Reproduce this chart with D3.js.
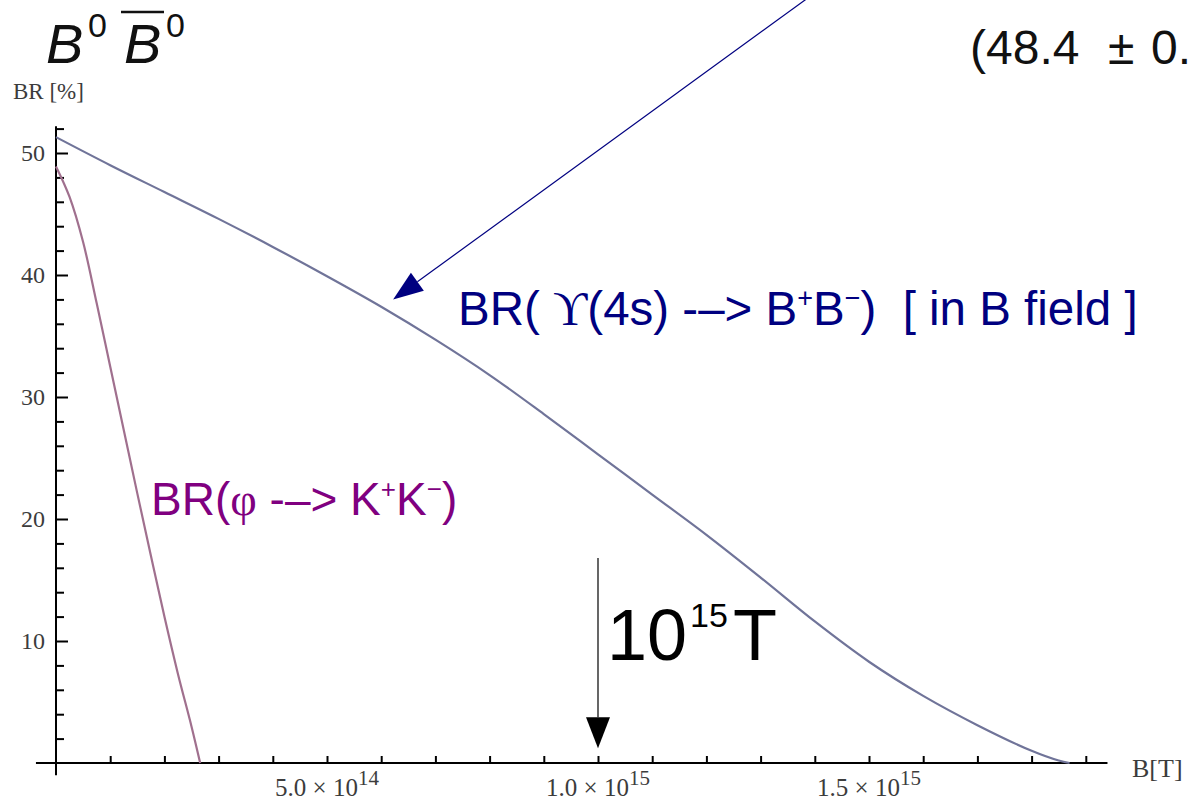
<!DOCTYPE html>
<html>
<head>
<meta charset="utf-8">
<script src="https://cdn.jsdelivr.net/npm/d3@7"></script>
<style>
  body { margin: 0; background: #fff; }
  svg { display: block; }
</style>
</head>
<body>
<svg id="chart" width="1191" height="803"></svg>
<script>
// Branching ratio of Υ(4S) → B+B− versus magnetic field (T, %)
const upsilonField = [0, 1e14, 2e14, 3e14, 4e14, 5e14, 6e14, 7e14, 8e14, 9e14,
  1e15, 1.1e15, 1.2e15, 1.3e15, 1.4e15, 1.5e15, 1.6e15, 1.7e15, 1.8e15, 1.85e15, 1.87e15];
const upsilonBR = [51.3, 49.0, 46.8, 44.6, 42.3, 39.9, 37.4, 34.7, 31.8, 28.6,
  25.3, 22.0, 18.7, 15.2, 11.6, 8.3, 5.5, 3.1, 1.0, 0.2, 0.0];

// Branching ratio of φ → K+K− versus magnetic field (T, %)
const phiField = [0, 2.5e13, 5e13, 7.5e13, 1e14, 1.25e14, 1.5e14, 1.75e14, 2e14, 2.25e14, 2.5e14, 2.66e14];
const phiBR = [48.9, 46.4, 42.7, 37.7, 32.5, 27.3, 22.1, 17.0, 12.0, 7.3, 3.0, 0.0];

// Axis ticks
const yTickValues = [10, 20, 30, 40, 50];
const yMinorTicks = [2, 4, 6, 8, 12, 14, 16, 18, 22, 24, 26, 28, 32, 34, 36, 38, 42, 44, 46, 48, 52];
const xMinorTicks = [1e14, 2e14, 3e14, 4e14, 5e14, 6e14, 7e14, 8e14, 9e14, 1e15,
  1.1e15, 1.2e15, 1.3e15, 1.4e15, 1.5e15, 1.6e15, 1.7e15, 1.8e15, 1.9e15];
const xTickValues = [5e14, 1e15, 1.5e15];
const xTickMantissas = ["5.0", "1.0", "1.5"];
const xTickExponents = ["14", "15", "15"];

// Extent of the drawn axis lines (data units)
const xAxisExtent = [-0.37e14, 1.94e15];
const yAxisExtent = [-1.0, 52.2];

// Annotated field value and the point the Υ(4S) label arrow touches
const markedField = 1e15;
const markedArrowTop = 16.8;
const markedArrowTip = 1.2;
const upsilonArrowFrom = [1.39e15, 62.8];
const upsilonArrowTo = [0.622e15, 38.0];

const svg = d3.select("#chart");
const x = d3.scaleLinear().domain([0, 1e15]).range([56, 598]);
const y = d3.scaleLinear().domain([0, 50]).range([763, 153]);

const serif = "'Liberation Serif', 'Times New Roman', serif";
const sans = "'Liberation Sans', Arial, sans-serif";
const labelGray = "#3c3c3c";

// ---- axes ----
const axes = svg.append("g");

// y axis: inward ticks, labels to the left
const yMajor = axes.append("g").attr("transform", `translate(${x(0)},0)`)
  .call(d3.axisLeft(y).tickValues(yTickValues).tickSizeInner(-12).tickSizeOuter(0).tickPadding(11));
yMajor.select(".domain").remove();
yMajor.selectAll(".tick line").attr("stroke", "#000").attr("stroke-width", 2);
yMajor.selectAll(".tick text").attr("font-family", serif).attr("font-size", 24).attr("fill", labelGray);

const yMinor = axes.append("g").attr("transform", `translate(${x(0)},0)`)
  .call(d3.axisLeft(y).tickValues(yMinorTicks).tickSizeInner(-8).tickSizeOuter(0).tickFormat(""));
yMinor.select(".domain").remove();
yMinor.selectAll(".tick line").attr("stroke", "#000").attr("stroke-width", 2);

// x axis: short upward ticks
const xMinor = axes.append("g").attr("transform", `translate(0,${y(0)})`)
  .call(d3.axisBottom(x).tickValues(xMinorTicks).tickSizeInner(-7).tickSizeOuter(0).tickFormat(""));
xMinor.select(".domain").remove();
xMinor.selectAll(".tick line").attr("stroke", "#000").attr("stroke-width", 2);

// axis lines
axes.append("line")
  .attr("x1", x(xAxisExtent[0])).attr("x2", x(xAxisExtent[1]))
  .attr("y1", y(0)).attr("y2", y(0))
  .attr("stroke", "#000").attr("stroke-width", 2);
axes.append("line")
  .attr("x1", x(0)).attr("x2", x(0))
  .attr("y1", y(yAxisExtent[0])).attr("y2", y(yAxisExtent[1]))
  .attr("stroke", "#000").attr("stroke-width", 2);

// x tick labels in scientific notation
const xLabels = axes.append("g");
xTickValues.forEach((v, i) => {
  const t = xLabels.append("text")
    .attr("x", x(v)).attr("y", 796)
    .attr("text-anchor", "middle")
    .attr("font-family", serif).attr("font-size", 25).attr("fill", labelGray);
  t.append("tspan").text(xTickMantissas[i] + " \u00D7 10");
  t.append("tspan").attr("font-size", 21).attr("dy", -11).text(xTickExponents[i]);
});

// axis titles
axes.append("text").attr("x", 13).attr("y", 99)
  .attr("font-family", serif).attr("font-size", 23).attr("fill", labelGray)
  .text("BR [%]");
axes.append("text").attr("x", 1132).attr("y", 777)
  .attr("font-family", serif).attr("font-size", 26).attr("fill", labelGray)
  .text("B[T]");

// ---- curves ----
const line = d3.line()
  .x(d => x(d[0])).y(d => y(d[1]))
  .curve(d3.curveCatmullRom.alpha(0.5));

svg.append("path")
  .datum(upsilonField.map((b, i) => [b, upsilonBR[i]]))
  .attr("d", line)
  .attr("fill", "none").attr("stroke", "#707499").attr("stroke-width", 2.2);

svg.append("path")
  .datum(phiField.map((b, i) => [b, phiBR[i]]))
  .attr("d", line)
  .attr("fill", "none").attr("stroke", "#a0708e").attr("stroke-width", 2.2);

// ---- annotations ----
function arrow(g, x1, y1, x2, y2, color, width, headLen, headWidth) {
  const ang = Math.atan2(y2 - y1, x2 - x1);
  const bx = x2 - headLen * Math.cos(ang), by = y2 - headLen * Math.sin(ang);
  g.append("line").attr("x1", x1).attr("y1", y1).attr("x2", bx).attr("y2", by)
    .attr("stroke", color).attr("stroke-width", width);
  const px = Math.sin(ang) * headWidth / 2, py = -Math.cos(ang) * headWidth / 2;
  g.append("path")
    .attr("d", `M${x2},${y2}L${bx + px},${by + py}L${bx - px},${by - py}Z`)
    .attr("fill", color);
}

const ann = svg.append("g");

// Υ(4S) label and its arrow
arrow(ann, x(upsilonArrowFrom[0]), y(upsilonArrowFrom[1]), x(upsilonArrowTo[0]), y(upsilonArrowTo[1]),
  "#000080", 1.2, 30, 22);

const ups = ann.append("text").attr("x", 458).attr("y", 325)
  .attr("font-family", sans).attr("font-size", 47.5).attr("fill", "#000080")
  .attr("xml:space", "preserve");
ups.append("tspan").text("BR( ");
ups.append("tspan").attr("font-family", serif).text("\u03D2");
ups.append("tspan").text("(4s) -\u2013> B");
ups.append("tspan").attr("font-size", 27).attr("dy", -18).text("+");
ups.append("tspan").attr("dy", 18).text("B");
ups.append("tspan").attr("font-size", 27).attr("dy", -18).text("\u2212");
ups.append("tspan").attr("dy", 18).text(")  [ in B field ]");

// φ label
const phi = ann.append("text").attr("x", 151).attr("y", 515)
  .attr("font-family", sans).attr("font-size", 46).attr("fill", "#800080")
  .attr("xml:space", "preserve");
phi.append("tspan").text("BR(");
phi.append("tspan").attr("font-family", serif).text("\u03C6");
phi.append("tspan").text(" -\u2013> K");
phi.append("tspan").attr("font-size", 26).attr("dy", -17).text("+");
phi.append("tspan").attr("dy", 17).text("K");
phi.append("tspan").attr("font-size", 26).attr("dy", -17).text("\u2212");
phi.append("tspan").attr("dy", 17).text(")");

// marker at 10^15 T
arrow(ann, x(markedField), y(markedArrowTop), x(markedField), y(markedArrowTip), "#000", 1.2, 31, 24);
const mark = ann.append("text").attr("x", 607).attr("y", 660)
  .attr("font-family", sans).attr("font-size", 72).attr("fill", "#000");
mark.append("tspan").text("10");
mark.append("tspan").attr("font-size", 34).attr("dy", -33).attr("dx", 3).text("15");
mark.append("tspan").attr("dy", 33).attr("dx", 5).text("T");

// ---- header texts ----
const title = svg.append("g").attr("font-family", sans).attr("fill", "#111");
title.append("text").attr("x", 46).attr("y", 63).attr("font-size", 56).attr("font-style", "italic").text("B");
title.append("text").attr("x", 88).attr("y", 37).attr("font-size", 34).text("0");
title.append("text").attr("x", 124).attr("y", 63).attr("font-size", 56).attr("font-style", "italic").text("B");
title.append("text").attr("x", 166).attr("y", 37).attr("font-size", 34).text("0");
title.append("line").attr("x1", 121).attr("x2", 164).attr("y1", 12).attr("y2", 12)
  .attr("stroke", "#111").attr("stroke-width", 2.5);

const err = svg.append("g").attr("font-family", sans).attr("font-size", 48).attr("fill", "#111");
err.append("text").attr("x", 970).attr("y", 64).text("(48.4");
err.append("text").attr("x", 1108).attr("y", 64).text("\u00B1");
err.append("text").attr("x", 1151).attr("y", 64).text("0.");
</script>
</body>
</html>
